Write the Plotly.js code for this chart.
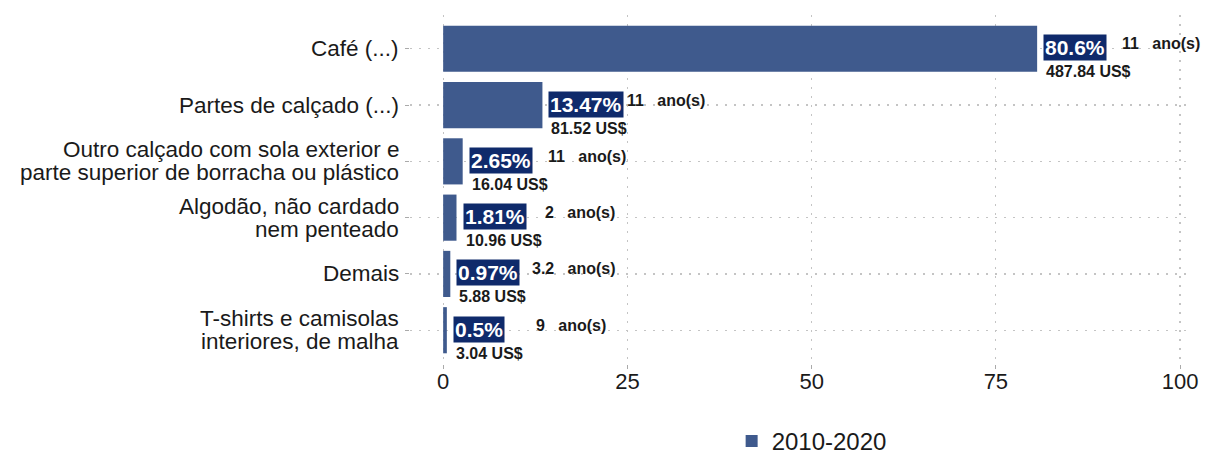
<!DOCTYPE html>
<html>
<head>
<meta charset="utf-8">
<script src="https://cdn.plot.ly/plotly-3.0.1.min.js"></script>
<style>html,body{margin:0;padding:0;background:#fff;}#chart{width:1206px;height:454px;}</style>
</head>
<body>
<div id="chart"></div>
<script>
var categories = [
  "Café (...)",
  "Partes de calçado (...)",
  "Outro calçado com sola exterior e<br>parte superior de borracha ou plástico",
  "Algodão, não cardado<br>nem penteado",
  "Demais",
  "T-shirts e camisolas<br>interiores, de malha"
];
var shares = [80.6, 13.47, 2.65, 1.81, 0.97, 0.5];
var shareLabels = ["80.6%", "13.47%", "2.65%", "1.81%", "0.97%", "0.5%"];
var valuesUSD = [487.84, 81.52, 16.04, 10.96, 5.88, 3.04];
var years = ["11", "11", "11", "2", "3.2", "9"];
var seriesName = "2010-2020";
var xTicks = [0, 25, 50, 75, 100];

var barColor = "#3f5a8d";
var boxColor = "#0f2a6b";
var dark = "#1a1a1a";
var FONT = "Liberation Sans, Arial, sans-serif";

var trace = {
  type: "bar",
  orientation: "h",
  x: shares,
  y: categories,
  name: seriesName,
  width: 0.82,
  marker: {color: barColor},
  hoverinfo: "skip",
  showlegend: true
};

var annotations = [];
for (var i = 0; i < categories.length; i++) {
  // category label lines (tighter line spacing than tick labels allow)
  var lines = categories[i].split("<br>");
  for (var j = 0; j < lines.length; j++) {
    annotations.push({
      x: 0, xref: "paper", y: categories[i], yref: "y",
      text: lines[j], showarrow: false,
      xanchor: "right", yanchor: "middle",
      xshift: -9, yshift: ((lines.length - 1) / 2 - j) * 23,
      font: {family: FONT, size: 22.5, color: dark}
    });
  }
  annotations.push({
    x: shares[i], y: categories[i], xref: "x", yref: "y",
    text: "<b>" + shareLabels[i] + "</b>",
    showarrow: false, xanchor: "left", yanchor: "middle",
    xshift: 6, yshift: 1,
    bgcolor: boxColor, borderpad: 1,
    font: {family: FONT, size: 21, color: "#ffffff"}
  });
  annotations.push({
    x: shares[i], y: categories[i], xref: "x", yref: "y",
    text: "<b>" + valuesUSD[i].toFixed(2) + " US$</b>",
    showarrow: false, xanchor: "left", yanchor: "middle",
    xshift: 7, yshift: -23,
    font: {family: FONT, size: 16, color: dark}
  });
  annotations.push({
    x: shares[i] + 16.8, y: categories[i], xref: "x", yref: "y",
    text: "<b>" + years[i] + "&nbsp;&nbsp;&nbsp;ano(s)</b>",
    showarrow: false, xanchor: "center", yanchor: "middle",
    yshift: 5,
    font: {family: FONT, size: 16, color: dark}
  });
}

var layout = {
  width: 1206, height: 454,
  margin: {l: 410, r: 20, t: 15, b: 90},
  paper_bgcolor: "#ffffff", plot_bgcolor: "#ffffff",
  font: {family: FONT, color: dark},
  xaxis: {
    range: [-4.5, 100.8],
    tickvals: xTicks,
    ticktext: xTicks.map(String),
    showgrid: true, gridcolor: "#c4c4c4", griddash: "2px,7px", gridwidth: 1.2,
    zeroline: false, showline: false,
    ticks: "outside", ticklen: 4, tickcolor: "#aaaaaa",
    ticklabelstandoff: -6,
    tickfont: {family: FONT, size: 22, color: dark},
    fixedrange: true
  },
  yaxis: {
    type: "category",
    categoryorder: "array", categoryarray: categories,
    range: [5.6, -0.6],
    showgrid: true, gridcolor: "#c4c4c4", griddash: "2px,7px", gridwidth: 1.2,
    zeroline: false, showline: false,
    showticklabels: false,
    ticks: "outside", ticklen: 4, tickcolor: "#aaaaaa",
    fixedrange: true
  },
  showlegend: true,
  legend: {
    orientation: "h",
    xref: "container", x: 0.673, xanchor: "center",
    yref: "container", y: 0.028, yanchor: "middle",
    font: {family: FONT, size: 24, color: dark},
    itemwidth: 30
  },
  annotations: annotations
};

Plotly.newPlot("chart", [trace], layout, {displayModeBar: false, staticPlot: true});
</script>
</body>
</html>
